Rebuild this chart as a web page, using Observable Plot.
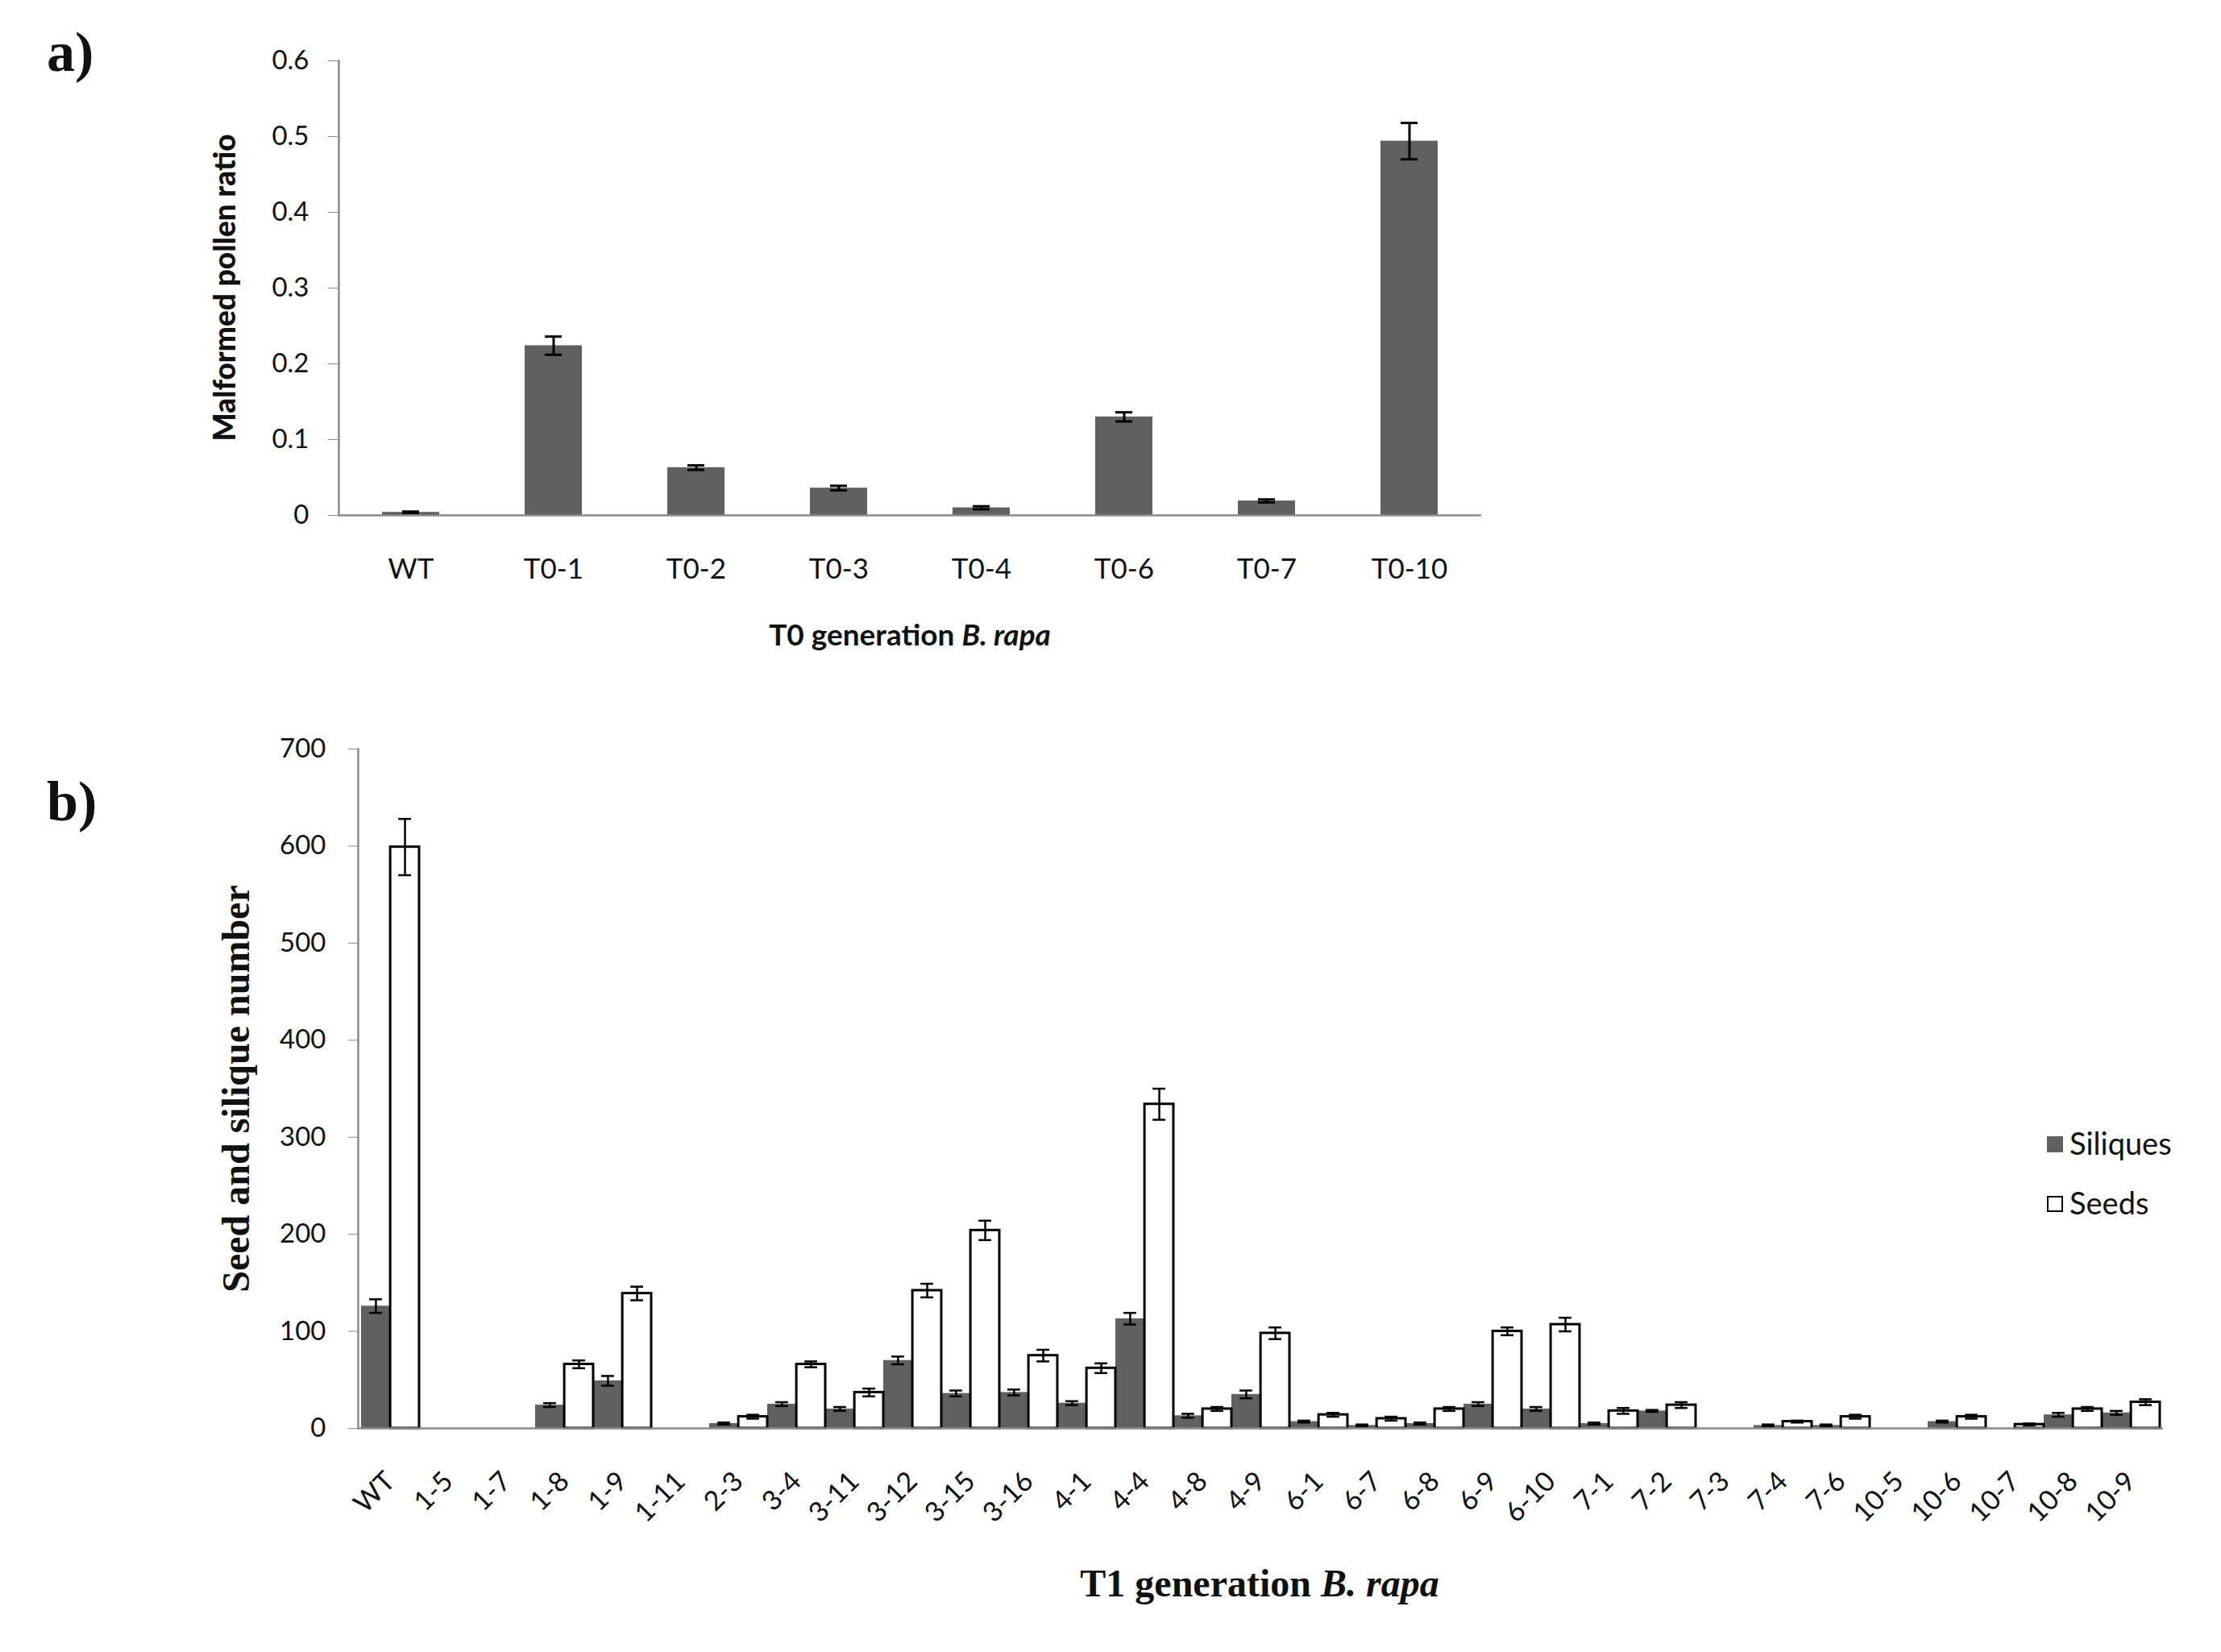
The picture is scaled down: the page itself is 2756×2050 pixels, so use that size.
<!DOCTYPE html>
<html>
<head>
<meta charset="utf-8">
<script src="https://cdn.jsdelivr.net/npm/d3@7"></script>
<script src="https://cdn.jsdelivr.net/npm/@observablehq/plot@0.6"></script>
<style>
  html, body { margin: 0; padding: 0; background: white; }
  #page { position: relative; width: 2756px; height: 2050px; overflow: hidden; background: white; font-family: Lato, sans-serif; color: #111; }
  .abs { position: absolute; white-space: nowrap; }
  .panel { font-family: "Liberation Serif", serif; font-weight: bold; font-size: 70px; line-height: 1; }
  .rot { transform: translate(-50%, -50%) rotate(-90deg); }
  .ctr { transform: translate(-50%, -50%); }
</style>
</head>
<body>
<div id="page">
  <div id="chartA" class="abs" style="left:0;top:0;"></div>
  <div id="chartB" class="abs" style="left:0;top:880px;"></div>

  <div class="abs panel" style="left:58px;top:30px;">a)</div>
  <div class="abs panel" style="left:58px;top:960px;">b)</div>

  <div class="abs rot" style="left:277px;top:357px;font-family:Lato,sans-serif;font-weight:900;font-size:37px;">Malformed pollen ratio</div>
  <div class="abs ctr" style="left:1129px;top:786px;font-family:Lato,sans-serif;font-weight:bold;font-size:37px;">T0 generation <i>B. rapa</i></div>

  <div class="abs rot" style="left:292px;top:1351px;font-family:'Liberation Serif',serif;font-weight:bold;font-size:48px;">Seed and silique number</div>
  <div class="abs ctr" style="left:1563px;top:1964px;font-family:'Liberation Serif',serif;font-weight:bold;font-size:48px;">T1 generation <i>B. rapa</i></div>

  <div id="legend"></div>
</div>
<script>
// ---------- Data: panel a ----------
const catsA = ["WT", "T0-1", "T0-2", "T0-3", "T0-4", "T0-6", "T0-7", "T0-10"];
const ratioA = [0.004, 0.224, 0.063, 0.036, 0.010, 0.130, 0.019, 0.494];
const errA = [0.001, 0.012, 0.003, 0.003, 0.002, 0.006, 0.002, 0.024];
const ticksA = [0, 0.1, 0.2, 0.3, 0.4, 0.5, 0.6];

// ---------- Data: panel b ----------
const catsB = ["WT", "1-5", "1-7", "1-8", "1-9", "1-11", "2-3", "3-4", "3-11", "3-12", "3-15", "3-16",
  "4-1", "4-4", "4-8", "4-9", "6-1", "6-7", "6-8", "6-9", "6-10", "7-1", "7-2", "7-3", "7-4", "7-6",
  "10-5", "10-6", "10-7", "10-8", "10-9"];
const siliques = [126, 0, 0, 24, 49, 0, 5, 25, 20, 70, 36, 37, 26, 113, 13, 35, 7, 3, 5, 25, 20, 5, 18, 0, 3, 3, 0, 7, 0, 14, 16];
const siliquesErr = [7, 0, 0, 2, 5, 0, 1, 2, 2, 4, 3, 3, 2, 6, 2, 4, 1, 1, 1, 2, 2, 1, 1, 0, 1, 1, 0, 1, 0, 2, 2];
const seeds = [599, 0, 0, 66, 139, 0, 12, 66, 37, 142, 204, 75, 62, 334, 20, 98, 14, 10, 20, 100, 107, 18, 24, 0, 7, 12, 0, 12, 4, 20, 27];
const seedsErr = [29, 0, 0, 4, 7, 0, 2, 3, 4, 7, 10, 6, 5, 16, 2, 6, 2, 2, 2, 4, 7, 3, 3, 0, 1, 2, 0, 2, 1, 2, 3];
const ticksB = [0, 100, 200, 300, 400, 500, 600, 700];
const seriesNames = ["Siliques", "Seeds"];

const axisGray = "#8a8a8a";
const barGray = "#606060";

// ---------- Panel a ----------
const dataA = catsA.map((c, i) => ({cat: c, v: ratioA[i], e: errA[i]}));
const plotA = Plot.plot({
  width: 1900, height: 830,
  marginLeft: 420, marginRight: 62, marginTop: 75, marginBottom: 191,
  style: {fontFamily: "Lato, sans-serif", color: "#111", background: "white"},
  x: {domain: catsA, paddingInner: 0.6, paddingOuter: 0.3, axis: null},
  y: {domain: [0, 0.6], axis: null},
  marks: [
    Plot.barY(dataA, {x: "cat", y: "v", fill: barGray}),
    Plot.ruleX(dataA, {x: "cat", y1: d => d.v - d.e, y2: d => d.v + d.e, stroke: "black", strokeWidth: 3}),
    Plot.tickY(dataA, {x: "cat", y: d => d.v - d.e, stroke: "black", strokeWidth: 3, inset: 25}),
    Plot.tickY(dataA, {x: "cat", y: d => d.v + d.e, stroke: "black", strokeWidth: 3, inset: 25}),
    Plot.ruleY([0], {stroke: axisGray, strokeWidth: 2.5}),
    Plot.frame({anchor: "left", stroke: axisGray, strokeWidth: 2.5}),
    Plot.axisY({ticks: ticksA, tickFormat: d3.format("~g"), tickSize: 13, tickPadding: 24, stroke: axisGray, fontSize: 33, label: null}),
    Plot.axisX({tickSize: 0, tickPadding: 54, fontSize: 35, label: null})
  ]
});
document.getElementById("chartA").appendChild(plotA);

// ---------- Panel b ----------
const WB = 2756, mLB = 444, mRB = 72;
const stepB = (WB - mLB - mRB) / catsB.length;
const rowsB = catsB.map((c, i) => ({cat: c, sil: siliques[i], silE: siliquesErr[i], seed: seeds[i], seedE: seedsErr[i]}));
const capHalf = 8;
const silRows = rowsB.filter(d => d.sil > 0);
const seedRows = rowsB.filter(d => d.seed > 0);

const plotB = Plot.plot({
  width: WB, height: 1170,
  marginLeft: mLB, marginRight: mRB, marginTop: 49, marginBottom: 278,
  style: {fontFamily: "Lato, sans-serif", color: "#111", background: "white"},
  x: {domain: catsB, padding: 0, axis: null},
  y: {domain: [0, 700], axis: null},
  marks: [
    Plot.barY(silRows, {x: "cat", y: "sil", fill: barGray, insetRight: stepB / 2}),
    Plot.barY(seedRows, {x: "cat", y: "seed", fill: "white", stroke: "black", strokeWidth: 3, insetLeft: stepB / 2}),
    // error bars: siliques
    Plot.ruleX(silRows, {x: "cat", y1: d => d.sil - d.silE, y2: d => d.sil + d.silE, dx: -stepB / 4, stroke: "black", strokeWidth: 2.5}),
    Plot.tickY(silRows, {x: "cat", y: d => d.sil - d.silE, stroke: "black", strokeWidth: 2.5, insetLeft: stepB / 4 - capHalf, insetRight: 3 * stepB / 4 - capHalf}),
    Plot.tickY(silRows, {x: "cat", y: d => d.sil + d.silE, stroke: "black", strokeWidth: 2.5, insetLeft: stepB / 4 - capHalf, insetRight: 3 * stepB / 4 - capHalf}),
    // error bars: seeds
    Plot.ruleX(seedRows, {x: "cat", y1: d => d.seed - d.seedE, y2: d => d.seed + d.seedE, dx: stepB / 4, stroke: "black", strokeWidth: 2.5}),
    Plot.tickY(seedRows, {x: "cat", y: d => d.seed - d.seedE, stroke: "black", strokeWidth: 2.5, insetLeft: 3 * stepB / 4 - capHalf, insetRight: stepB / 4 - capHalf}),
    Plot.tickY(seedRows, {x: "cat", y: d => d.seed + d.seedE, stroke: "black", strokeWidth: 2.5, insetLeft: 3 * stepB / 4 - capHalf, insetRight: stepB / 4 - capHalf}),
    Plot.ruleY([0], {stroke: axisGray, strokeWidth: 2.5}),
    Plot.frame({anchor: "left", stroke: axisGray, strokeWidth: 2.5}),
    Plot.axisY({ticks: ticksB, tickSize: 12, tickPadding: 28, stroke: axisGray, fontSize: 33, label: null}),
    Plot.axisX({tickSize: 0, tickPadding: 60, tickRotate: -45, fontSize: 34, label: null})
  ]
});
document.getElementById("chartB").appendChild(plotB);

// ---------- Legend (panel b) ----------
const legendColors = {Siliques: {bg: barGray, border: "none"}, Seeds: {bg: "white", border: "2.5px solid black"}};
const legend = document.getElementById("legend");
seriesNames.forEach((name, i) => {
  const row = document.createElement("div");
  row.className = "abs";
  row.style.left = "2540px";
  row.style.top = (1398 + i * 74) + "px";
  row.style.display = "flex";
  row.style.alignItems = "center";
  row.style.height = "40px";
  row.style.fontFamily = "Lato, sans-serif";
  row.style.fontSize = "38px";
  const sw = document.createElement("div");
  sw.style.width = "20px"; sw.style.height = "20px";
  sw.style.boxSizing = "border-box";
  sw.style.background = legendColors[name].bg;
  sw.style.border = legendColors[name].border;
  sw.style.marginRight = "8px";
  sw.style.marginTop = "4px";
  const tx = document.createElement("span");
  tx.textContent = name;
  row.appendChild(sw); row.appendChild(tx);
  legend.appendChild(row);
});
</script>
</body>
</html>
